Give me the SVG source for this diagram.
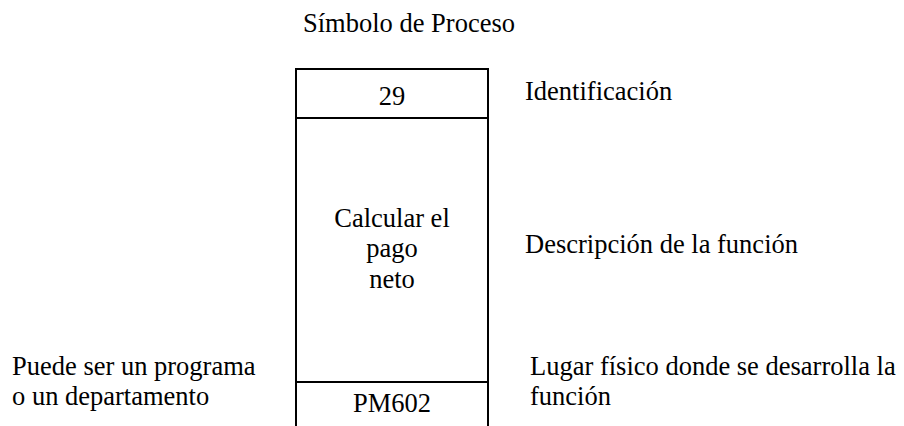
<svg xmlns="http://www.w3.org/2000/svg" width="904" height="426" viewBox="0 0 904 426">
<style>
text{font-family:"Liberation Serif","Times New Roman",serif;font-size:26.5px;fill:#000}
.c{text-anchor:middle}
.ln{stroke:#000;stroke-width:2;fill:none}
</style>
<rect width="904" height="426" fill="#fff"/>
<text x="303" y="32">Símbolo de Proceso</text>
<g id="process-symbol">
<path class="ln" d="M296,432 V69 H488 V432"/>
<line class="ln" x1="296" y1="118" x2="488" y2="118"/>
<line class="ln" x1="296" y1="382" x2="488" y2="382"/>
<text class="c" x="392" y="105">29</text>
<text class="c" x="392" y="227">Calcular el</text>
<text class="c" x="392" y="257">pago</text>
<text class="c" x="392" y="288">neto</text>
<text class="c" x="392" y="412">PM602</text>
</g>
<g id="label-id"><text x="525" y="100">Identificación</text></g>
<g id="label-desc"><text x="525" y="253">Descripción de la función</text></g>
<g id="label-lugar"><text x="530" y="375">Lugar físico donde se desarrolla la</text><text x="530" y="405">función</text></g>
<g id="label-puede"><text x="12" y="375">Puede ser un programa</text><text x="12" y="405">o un departamento</text></g>
<g id="connectors"></g>
</svg>
